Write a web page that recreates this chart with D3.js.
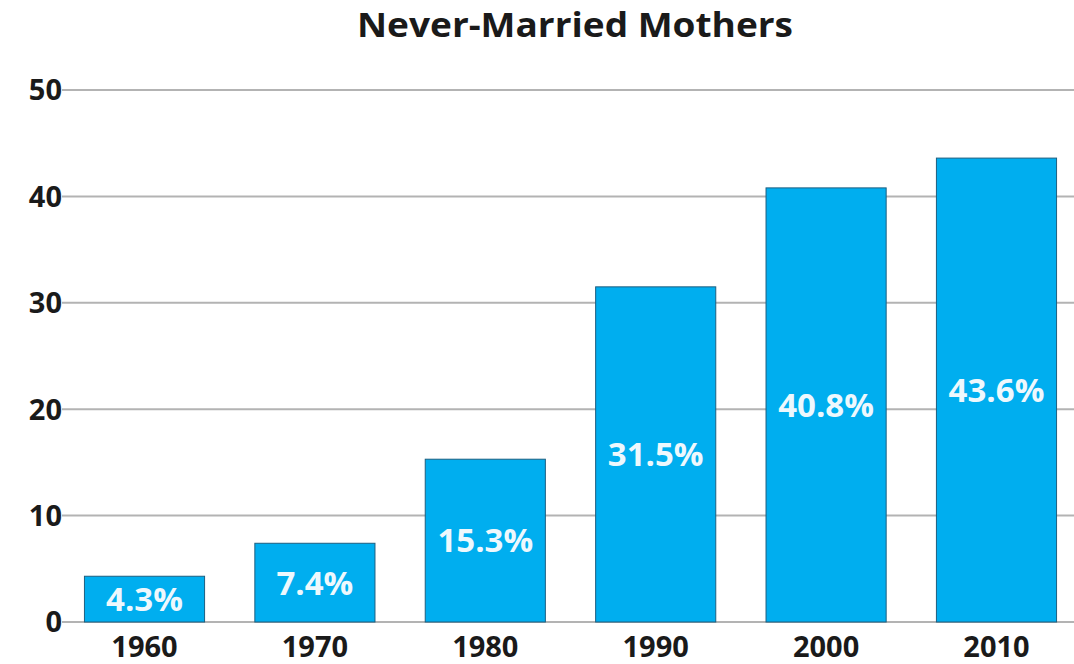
<!DOCTYPE html>
<html><head><meta charset="utf-8">
<script src="https://cdn.jsdelivr.net/npm/d3@7"></script>
<style>body{margin:0;background:#fff}svg{display:block}</style>
</head><body><svg id="c" width="1074" height="664"></svg>
<script>
const title = "Never-Married Mothers";
const years = ["1960","1970","1980","1990","2000","2010"];
const values = [4.3, 7.4, 15.3, 31.5, 40.8, 43.6];
const labels = ["4.3%","7.4%","15.3%","31.5%","40.8%","43.6%"];
const yTicks = [0,10,20,30,40,50];

const svg = d3.select("#c");
const m={left:62};
const x = d3.scaleBand().domain(years).range([2,1015]).paddingInner(0.295).paddingOuter(0.12);
const y = d3.scaleLinear().domain([0,50]).range([622,90]);
const g = svg.append("g").attr("transform",`translate(${m.left},0)`);

svg.append("text").attr("x",575).attr("y",37).attr("text-anchor","middle")
  .attr("font-family","Open Sans").attr("font-weight","bold").attr("font-size",34)
  .attr("textLength",436).attr("lengthAdjust","spacingAndGlyphs")
  .attr("fill","#1a1a1a").text(title);

g.selectAll(".grid").data(yTicks).join("line")
  .attr("x1",0).attr("x2",1012).attr("y1",d=>y(d)).attr("y2",d=>y(d))
  .attr("stroke","#b3b3b3").attr("stroke-width",2);

svg.selectAll(".yl").data(yTicks).join("text")
  .attr("x",62).attr("y",d=>y(d)).attr("dy","0.36em").attr("text-anchor","end")
  .attr("font-family","Open Sans").attr("font-weight","bold").attr("font-size",29)
  .attr("fill","#1a1a1a").text(d=>d);

g.selectAll(".bar").data(values).join("rect")
  .attr("x",(d,i)=>x(years[i])).attr("width",x.bandwidth())
  .attr("y",d=>y(d)).attr("height",d=>y(0)-y(d))
  .attr("fill","#00aeef").attr("stroke","#1d5f80").attr("stroke-width",1);

g.selectAll(".vl").data(values).join("text")
  .attr("x",(d,i)=>x(years[i])+x.bandwidth()/2)
  .attr("y",d=>(y(d)+y(0))/2).attr("dy","0.36em").attr("text-anchor","middle")
  .attr("font-family","Open Sans").attr("font-weight","bold").attr("font-size",33)
  .attr("fill","#eef8fd").text((d,i)=>labels[i]);

g.selectAll(".xl").data(years).join("text")
  .attr("x",d=>x(d)+x.bandwidth()/2).attr("y",647).attr("dy","0.36em").attr("text-anchor","middle")
  .attr("font-family","Open Sans").attr("font-weight","bold").attr("font-size",29)
  .attr("fill","#1a1a1a").text(d=>d);
</script></body></html>
